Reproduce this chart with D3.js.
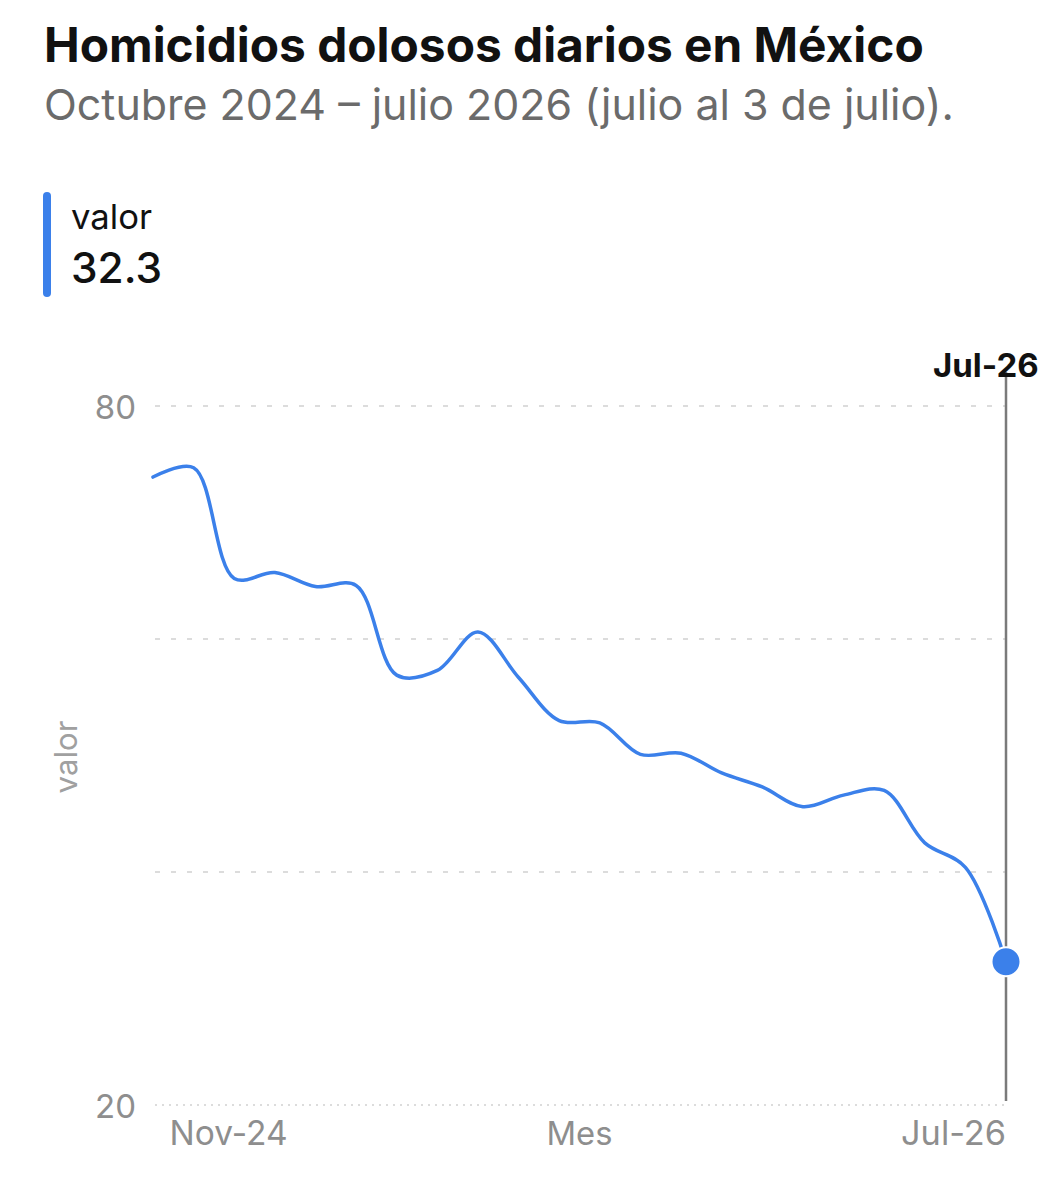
<!DOCTYPE html>
<html>
<head>
<meta charset="utf-8">
<script src="https://cdn.jsdelivr.net/npm/d3@7"></script>
<style>
  body { margin: 0; background: #fff; }
  svg { display: block; font-family: Inter, Roboto, "Noto Sans", sans-serif; }
</style>
</head>
<body>
<svg id="chart" width="1038" height="1200"></svg>
<script>
// Data: monthly average of daily intentional homicides
const months = ['Oct-24', 'Nov-24', 'Dec-24', 'Jan-25', 'Feb-25', 'Mar-25', 'Apr-25', 'May-25',
  'Jun-25', 'Jul-25', 'Aug-25', 'Sep-25', 'Oct-25', 'Nov-25', 'Dec-25', 'Jan-26', 'Feb-26',
  'Mar-26', 'Apr-26', 'May-26', 'Jun-26', 'Jul-26'];
const values = [73.9, 74.7, 65.2, 65.7, 64.5, 64.6, 56.9, 57.3, 60.6, 56.7, 53.0, 52.8,
  50.1, 50.2, 48.5, 47.3, 45.6, 46.6, 47.0, 42.5, 40.4, 32.3];
const y_ticks = [20, 40, 60, 80];
const y_labels = [20, 80];
const x_labels = ['Nov-24', 'Jul-26'];

const title = 'Homicidios dolosos diarios en México';
const subtitle = 'Octubre 2024 – julio 2026 (julio al 3 de julio).';

// Settings
const line_color = '#3b80ea';
const grid_color = '#dcdcdc';
const axis_text = '#8e8e8e';
const margin = { left: 153, right: 1006, top: 406, bottom: 1105 };

const svg = d3.select('#chart');

// Fit a text element to a target width by tuning font size
function fit(sel, width) {
  const w = sel.node().getComputedTextLength();
  const fs = parseFloat(sel.attr('font-size'));
  sel.attr('font-size', (fs * width) / w);
}

// Header
svg.append('text')
  .attr('x', 44).attr('y', 62)
  .attr('font-size', 40).attr('font-weight', 700).attr('fill', '#111')
  .text(title)
  .call(fit, 880);
svg.append('text')
  .attr('x', 44).attr('y', 120)
  .attr('font-size', 36).attr('fill', '#6b6b6b')
  .text(subtitle)
  .call(fit, 910);

// Legend / current value
svg.append('rect')
  .attr('x', 43).attr('y', 192).attr('width', 8).attr('height', 105)
  .attr('rx', 4).attr('fill', line_color);
svg.append('text')
  .attr('x', 71).attr('y', 229)
  .attr('font-size', 30).attr('fill', '#111')
  .text('valor')
  .call(fit, 81);
svg.append('text')
  .attr('x', 71).attr('y', 283)
  .attr('font-size', 40).attr('font-weight', 500).attr('fill', '#111')
  .text(values[values.length - 1].toFixed(1))
  .call(fit, 91);

// Scales
const x = d3.scalePoint().domain(months).range([margin.left, margin.right]);
const y = d3.scaleLinear().domain([20, 80]).range([margin.bottom, margin.top]);

// Grid
svg.append('g')
  .selectAll('line')
  .data(y_ticks)
  .enter()
  .append('line')
  .attr('x1', margin.left + 2).attr('x2', margin.right)
  .attr('y1', (d) => y(d)).attr('y2', (d) => y(d))
  .attr('stroke', grid_color)
  .attr('stroke-width', 2)
  .attr('stroke-dasharray', (d) => (d === 20 ? '2,5' : '5,11'));

// Y labels
svg.append('g')
  .selectAll('text')
  .data(y_labels)
  .enter()
  .append('text')
  .attr('x', 136).attr('y', (d) => y(d) + 13)
  .attr('text-anchor', 'end')
  .attr('font-size', 33).attr('fill', axis_text)
  .text((d) => d);

// Y axis title
svg.append('text')
  .attr('transform', 'translate(77,757) rotate(-90)')
  .attr('text-anchor', 'middle')
  .attr('font-size', 30).attr('fill', '#a0a0a0')
  .text('valor')
  .call(fit, 73);

// X labels
svg.append('text')
  .attr('x', x(x_labels[0]) - 24).attr('y', 1145)
  .attr('font-size', 32).attr('fill', axis_text)
  .text(x_labels[0])
  .call(fit, 118);
svg.append('text')
  .attr('x', x(x_labels[1])).attr('y', 1145)
  .attr('text-anchor', 'end')
  .attr('font-size', 32).attr('fill', axis_text)
  .text(x_labels[1])
  .call(fit, 105);
svg.append('text')
  .attr('x', (margin.left + margin.right) / 2).attr('y', 1145)
  .attr('text-anchor', 'middle')
  .attr('font-size', 32).attr('fill', axis_text)
  .text('Mes')
  .call(fit, 66);

// Selection rule at the last month
const last = months[months.length - 1];
svg.append('line')
  .attr('x1', x(last)).attr('x2', x(last))
  .attr('y1', 372).attr('y2', margin.bottom - 4)
  .attr('stroke', '#7a7a7a').attr('stroke-width', 2.5);
svg.append('text')
  .attr('x', x(last) - 73).attr('y', 377)
  .attr('font-size', 33).attr('font-weight', 700).attr('fill', '#111')
  .text(last);

// Line
const data = months.map((m, i) => ({ m: m, v: values[i] }));
const line = d3.line()
  .x((d) => x(d.m))
  .y((d) => y(d.v))
  .curve(d3.curveCatmullRom.alpha(0.5));
svg.append('path')
  .datum(data)
  .attr('d', line)
  .attr('fill', 'none')
  .attr('stroke', line_color)
  .attr('stroke-width', 3.5)
  .attr('stroke-linecap', 'round');

// Highlighted point
svg.append('circle')
  .attr('cx', x(last)).attr('cy', y(values[values.length - 1]))
  .attr('r', 14.5)
  .attr('fill', line_color)
  .attr('stroke', '#fff').attr('stroke-width', 2);
</script>
</body>
</html>
